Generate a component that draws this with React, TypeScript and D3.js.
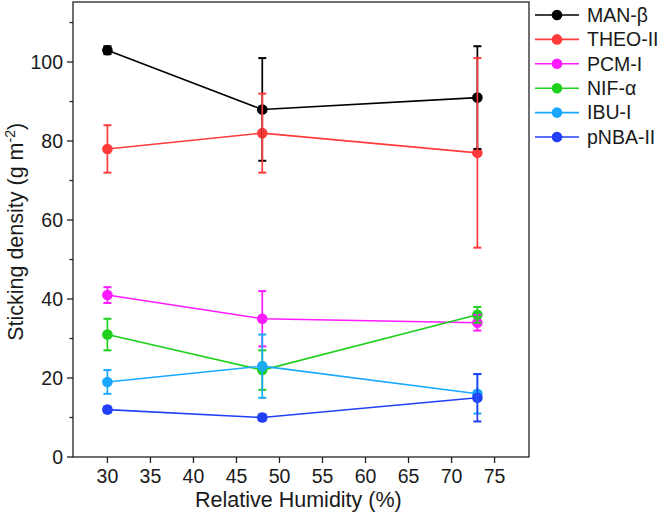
import { useMemo } from "react";
import * as d3 from "d3";

const humidity = [30, 48, 73];
const seriesNames = ["MAN-β", "THEO-II", "PCM-I", "NIF-α", "IBU-I", "pNBA-II"];
const seriesColors = ["#000000", "#ff3b3b", "#ff1aff", "#1fd11f", "#1aa8ff", "#2240f5"];
const density = [
  [103, 88, 91],
  [78, 82, 77],
  [41, 35, 34],
  [31, 22, 36],
  [19, 23, 16],
  [12, 10, 15],
];
const errors = [
  [1, 13, 13],
  [6, 10, 24],
  [2, 7, 2],
  [4, 5, 2],
  [3, 8, 5],
  [0.8, 0.8, 6],
];
const xTicks = [30, 35, 40, 45, 50, 55, 60, 65, 70, 75];
const yTicks = [0, 20, 40, 60, 80, 100];
const yMinorTicks = [10, 30, 50, 70, 90, 110];

const width = 661;
const height = 514;
const margin = { top: 2, right: 132, bottom: 57, left: 73 };
const font = "'Liberation Sans', Arial, sans-serif";

const App = () => {
  const innerWidth = width - margin.left - margin.right;
  const innerHeight = height - margin.top - margin.bottom;

  const xScale = useMemo(
    () => d3.scaleLinear().domain([26, 79]).range([0, innerWidth]),
    [innerWidth]
  );
  const yScale = useMemo(
    () => d3.scaleLinear().domain([0, 115.2]).range([innerHeight, 0]),
    [innerHeight]
  );

  const line = d3
    .line<number>()
    .x((_, i) => xScale(humidity[i]))
    .y((d) => yScale(d));

  const cap = 4;

  return (
    <svg
      width={width}
      height={height}
      style={{ position: "absolute", left: 0, top: 0, fontFamily: font }}
    >
      <rect width={width} height={height} fill="#fff" />
      <g transform={`translate(${margin.left}, ${margin.top})`}>
        {/* series lines */}
        {density.map((vals, s) => (
          <path
            key={`l${s}`}
            d={line(vals) ?? ""}
            fill="none"
            stroke={seriesColors[s]}
            strokeWidth={1.6}
          />
        ))}
        {/* markers */}
        {density.map((vals, s) =>
          vals.map((v, i) => (
            <circle
              key={`m${s}-${i}`}
              cx={xScale(humidity[i])}
              cy={yScale(v)}
              r={5.3}
              fill={seriesColors[s]}
            />
          ))
        )}
        {/* error bars */}
        {density.map((vals, s) =>
          vals.map((v, i) => {
            const x = xScale(humidity[i]);
            const y0 = yScale(v - errors[s][i]);
            const y1 = yScale(v + errors[s][i]);
            return (
              <g key={`e${s}-${i}`} stroke={seriesColors[s]} strokeWidth={1.7}>
                <line x1={x} x2={x} y1={y0} y2={y1} />
                <line x1={x - cap} x2={x + cap} y1={y0} y2={y0} strokeWidth={2} />
                <line x1={x - cap} x2={x + cap} y1={y1} y2={y1} strokeWidth={2} />
              </g>
            );
          })
        )}

        {/* frame */}
        <rect
          width={innerWidth}
          height={innerHeight}
          fill="none"
          stroke="#222"
          strokeWidth={1.3}
        />

        {/* x axis */}
        {xTicks.map((t) => (
          <g key={`xt${t}`} transform={`translate(${xScale(t)}, ${innerHeight})`}>
            <line y2={6} stroke="#222" strokeWidth={1.3} />
            <text y={26} textAnchor="middle" fontSize={19.5} fill="#1a1a1a">
              {t}
            </text>
          </g>
        ))}
        <text
          x={xScale(52.2)}
          y={innerHeight + 50}
          textAnchor="middle"
          fontSize={21.5}
          fill="#1a1a1a"
        >
          Relative Humidity (%)
        </text>

        {/* y axis */}
        {yTicks.map((t) => (
          <g key={`yt${t}`} transform={`translate(0, ${yScale(t)})`}>
            <line x2={-6} stroke="#222" strokeWidth={1.3} />
            <text x={-10} dy="0.35em" textAnchor="end" fontSize={19.5} fill="#1a1a1a">
              {t}
            </text>
          </g>
        ))}
        {yMinorTicks.map((t) => (
          <line
            key={`ym${t}`}
            y1={yScale(t)}
            y2={yScale(t)}
            x2={-3.5}
            stroke="#222"
            strokeWidth={1.3}
          />
        ))}
        <text
          transform={`translate(-50, ${yScale(57)}) rotate(-90)`}
          textAnchor="middle"
          fontSize={21.5}
          fill="#1a1a1a"
        >
          Sticking density (g m
          <tspan dy={-8} fontSize={14}>
            -2
          </tspan>
          <tspan dy={8}>)</tspan>
        </text>
      </g>

      {/* legend */}
      <g transform={`translate(${width - margin.right + 6}, 15)`}>
        {seriesNames.map((name, s) => (
          <g key={name} transform={`translate(0, ${s * 24.4})`}>
            <line x1={0} x2={44} stroke={seriesColors[s]} strokeWidth={1.6} />
            <circle cx={22} r={5.3} fill={seriesColors[s]} />
            <text x={52} dy="0.35em" fontSize={19.5} fill="#1a1a1a">
              {name}
            </text>
          </g>
        ))}
      </g>
    </svg>
  );
};

export default App;
